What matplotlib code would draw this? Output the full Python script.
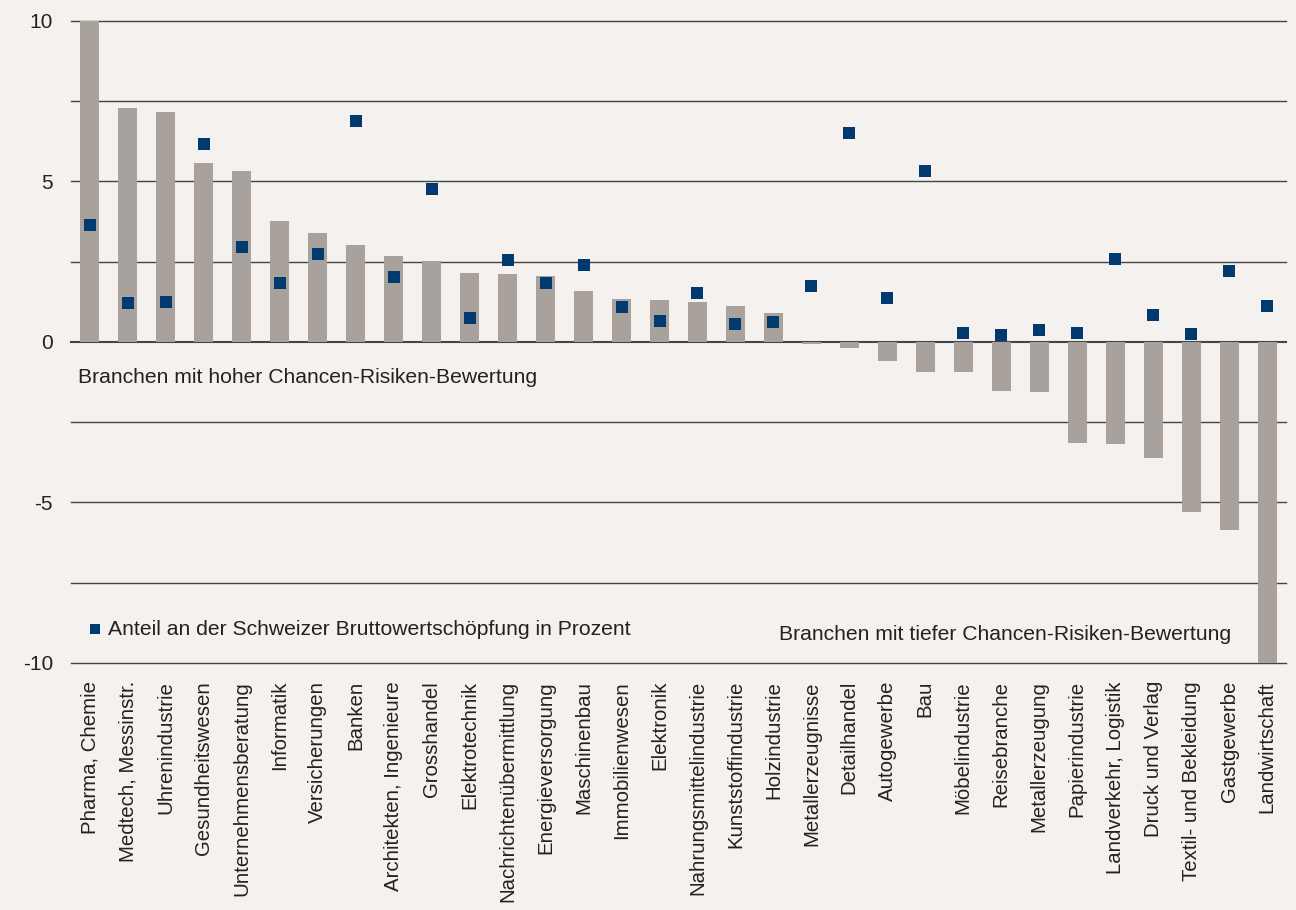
import matplotlib
matplotlib.use("Agg")
import matplotlib.pyplot as plt

plt.rcParams['font.family'] = ['Liberation Sans', 'DejaVu Sans']

categories = ["Pharma, Chemie", "Medtech, Messinstr.", "Uhrenindustrie", "Gesundheitswesen",
              "Unternehmensberatung", "Informatik", "Versicherungen", "Banken",
              "Architekten, Ingenieure", "Grosshandel", "Elektrotechnik", "Nachrichtenübermittlung",
              "Energieversorgung", "Maschinenbau", "Immobilienwesen", "Elektronik",
              "Nahrungsmittelindustrie", "Kunststoffindustrie", "Holzindustrie", "Metallerzeugnisse",
              "Detailhandel", "Autogewerbe", "Bau", "Möbelindustrie", "Reisebranche",
              "Metallerzeugung", "Papierindustrie", "Landverkehr, Logistik", "Druck und Verlag",
              "Textil- und Bekleidung", "Gastgewerbe", "Landwirtschaft"]

bewertung = [10.0, 7.29, 7.17, 5.58, 5.33, 3.77, 3.40, 3.02, 2.68, 2.52, 2.15, 2.12,
             2.06, 1.59, 1.34, 1.31, 1.25, 1.12, 0.90, -0.05, -0.18, -0.58, -0.93, -0.93,
             -1.52, -1.55, -3.15, -3.18, -3.60, -5.30, -5.85, -10.0]

anteil = [3.64, 1.21, 1.25, 6.17, 2.96, 1.84, 2.74, 6.88, 2.02, 4.77, 0.75, 2.55,
          1.84, 2.40, 1.09, 0.65, 1.53, 0.55, 0.61, 1.74, 6.51, 1.37, 5.33, 0.27,
          0.23, 0.38, 0.29, 2.59, 0.85, 0.25, 2.21, 1.11]

bg = "#f4f1ee"
bar_color = "#a9a19b"
dot_color = "#003a6e"
grid_color = "#444444"
text_color = "#222222"

fig = plt.figure(figsize=(12.96, 9.10), dpi=100, facecolor=bg)
ax = fig.add_axes([71/1296, 1-663/910, (1286-71)/1296, (663-21)/910], facecolor=bg)

x = list(range(len(categories)))
for yv in [-10, -7.5, -5, -2.5, 0, 2.5, 5, 7.5, 10]:
    ax.axhline(yv, color=grid_color, lw=1.0 if yv != 0 else 1.5, zorder=1, clip_on=False)

ax.bar(x, bewertung, width=0.5, color=bar_color, zorder=2)
ax.scatter(x, anteil, marker='s', s=65, color=dot_color, zorder=3, linewidths=0)

ax.set_xlim(-0.5, 31.5)
ax.set_ylim(-10, 10)
ax.set_yticks([-10, -5, 0, 5, 10])
ax.set_yticklabels(["-10", "-5", "0", "5", "10"], fontsize=15, color=text_color)
ax.set_xticks(x)
ax.set_xticklabels(categories, rotation=90, fontsize=14.7, color=text_color)
ax.tick_params(axis='x', length=0, pad=13)
ax.tick_params(axis='y', length=0, pad=13)
for s in ax.spines.values():
    s.set_visible(False)

ax.text(-0.32, -1.1, "Branchen mit hoher Chancen-Risiken-Bewertung", fontsize=15.2,
        color=text_color, va='center', ha='left', zorder=4)
ax.text(30.06, -9.1, "Branchen mit tiefer Chancen-Risiken-Bewertung", fontsize=15.2,
        color=text_color, va='center', ha='right', zorder=4)
ax.scatter([0.13], [-8.95], marker='s', s=55, color=dot_color, zorder=4, linewidths=0, clip_on=False)
ax.text(0.48, -8.95, "Anteil an der Schweizer Bruttowertschöpfung in Prozent", fontsize=15.2,
        color=text_color, va='center', ha='left', zorder=4)

fig.savefig("out.png", dpi=100, facecolor=bg)
